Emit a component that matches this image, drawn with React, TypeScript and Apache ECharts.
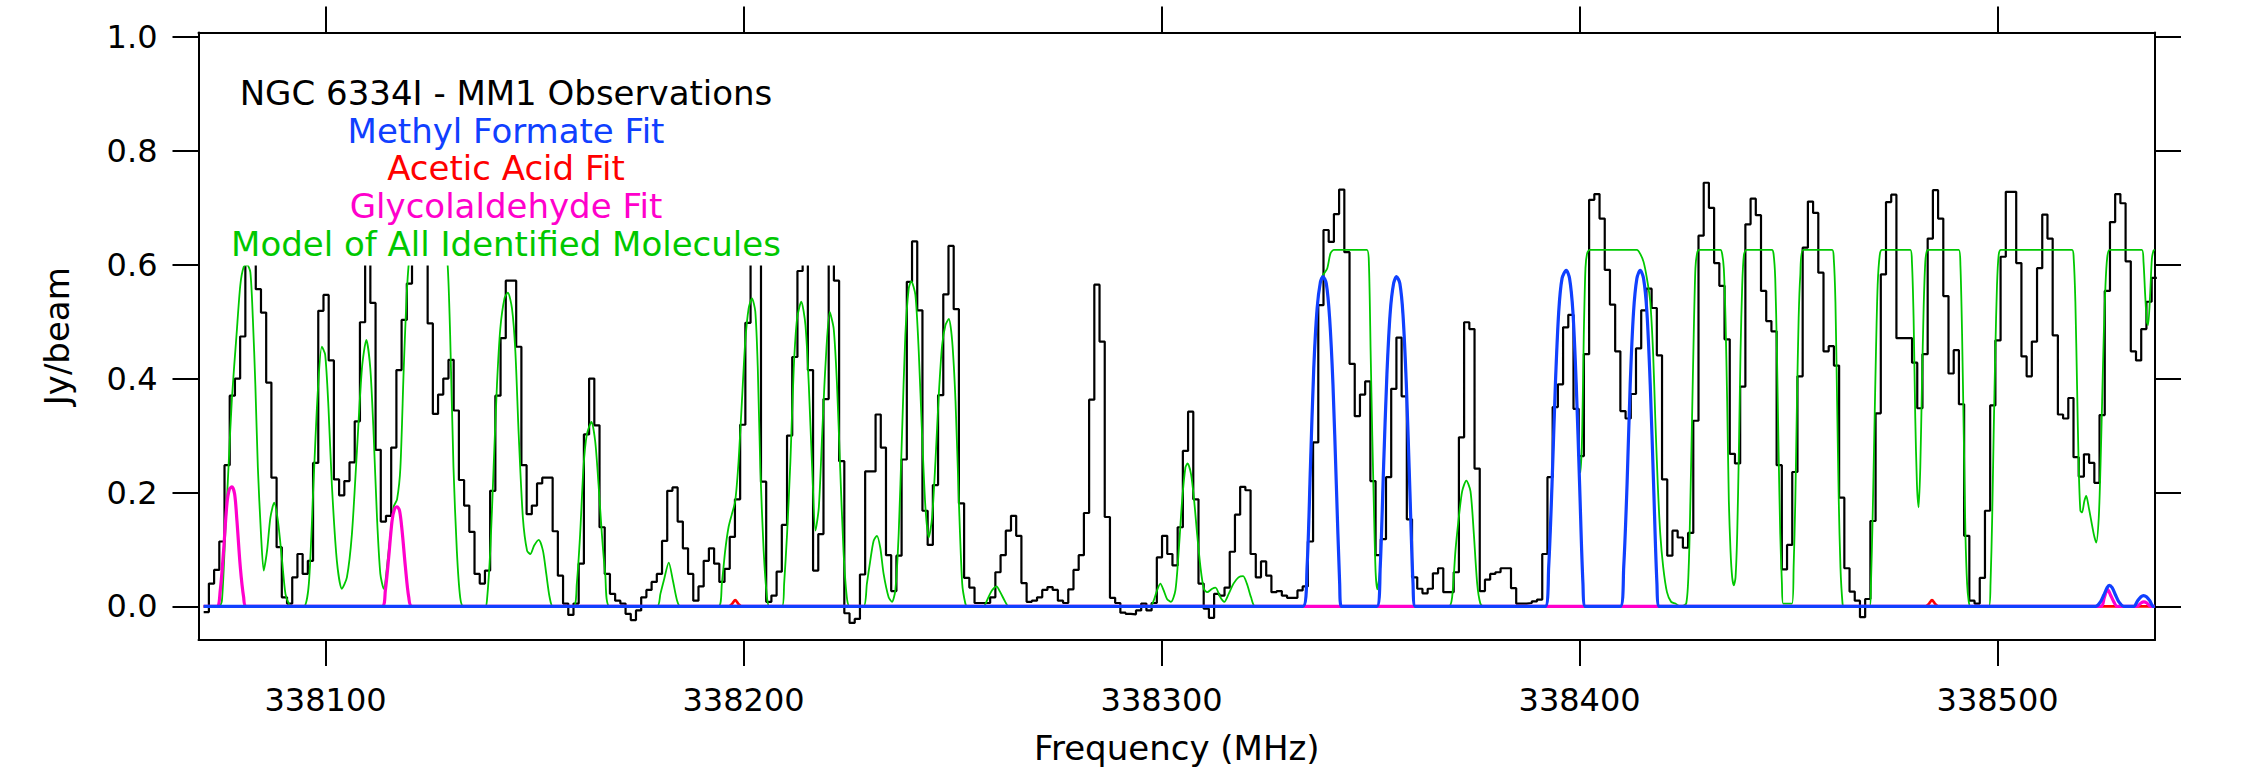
import React, { useEffect, useRef } from 'react';
import * as echarts from 'echarts';

const FONT = 'DejaVu Sans';

// Axis ticks
const X_TICKS = [338100, 338200, 338300, 338400, 338500];
const Y_TICKS = [0, 0.2, 0.4, 0.6, 0.8, 1.0];
const X_MIN = 338069.6;
const X_MAX = 338537.65;
const Y_MIN = -0.059;
const Y_MAX = 1.008;

// Observed spectrum: channel grid (left edge of first channel, channel width in MHz)
const SPEC_START = 338070.84;
const SPEC_CHANNEL = 1.246;
const SPEC_A = [-0.01, 0.04, 0.064, 0.114, 0.248, 0.37, 0.40, 0.474, 0.65, 0.68, 0.557, 0.516, 0.393, 0.226, 0.104, 0.016, 0.005, 0.051, 0.092, 0.057, 0.08, 0.252, 0.519, 0.547, 0.432, 0.223, 0.195, 0.22, 0.253, 0.325, 0.499, 0.63, 0.533, 0.275, 0.149, 0.159, 0.279, 0.415, 0.503, 0.567, 0.66, 0.70, 0.64, 0.497, 0.338, 0.372, 0.40];
const SPEC_B = [0.433, 0.344, 0.222, 0.177, 0.131, 0.057, 0.04, 0.063, 0.203, 0.37, 0.471, 0.572, 0.572, 0.456, 0.248, 0.162, 0.177, 0.216, 0.226, 0.226, 0.132, 0.054, 0.005, -0.015, 0.005, 0.075, 0.302, 0.40, 0.318, 0.139, 0.057, 0.022, 0.01, 0.005, -0.013, -0.024, -0.007, 0.016, 0.029, 0.043, 0.057, 0.115, 0.203, 0.209, 0.149, 0.102, 0.057, 0.01];
const SPEC_C = [0.035, 0.08, 0.102, 0.075, 0.043, 0.066, 0.122, 0.188, 0.319, 0.498, 0.66, 0.64, 0.219, 0.008, 0.019, 0.061, 0.143, 0.30, 0.438, 0.589, 0.61, 0.415, 0.063, 0.127, 0.364, 0.63, 0.572, 0.255, -0.012, -0.029, -0.022, 0.056, 0.237, 0.237, 0.337, 0.279, 0.09, 0.027, 0.089, 0.258, 0.57, 0.641, 0.52, 0.168, 0.108, 0.213, 0.371, 0.548];
const SPEC_D = [0.633, 0.522, 0.181, 0.05, 0.033, 0.006, 0.006, 0.006, 0.016, 0.06, 0.09, 0.133, 0.159, 0.124, 0.041, 0.008, 0.01, 0.016, 0.029, 0.034, 0.029, 0.01, 0.006, 0.03, 0.064, 0.09, 0.164, 0.363, 0.565, 0.465, 0.157, 0.015, 0.006, -0.011, -0.013, -0.014, -0.007, 0.005, -0.007, 0.006, 0.086, 0.124, 0.092, 0.072, 0.139, 0.273, 0.342, 0.188];
const SPEC_E = [0.04, -0.004, -0.02, 0.022, 0.019, 0.033, 0.096, 0.161, 0.21, 0.204, 0.092, 0.051, 0.079, 0.054, 0.025, 0.027, 0.019, 0.015, 0.015, 0.028, 0.035, 0.114, 0.288, 0.529, 0.661, 0.64, 0.689, 0.732, 0.622, 0.426, 0.334, 0.372, 0.395, 0.22, 0.09, 0.118, 0.227, 0.382, 0.472, 0.369, 0.153, 0.051, 0.031, 0.023, 0.031, 0.058, 0.067, 0.025];
const SPEC_F = [0.025, 0.06, 0.297, 0.499, 0.487, 0.242, 0.027, 0.047, 0.057, 0.06, 0.067, 0.067, 0.032, 0.005, 0.005, 0.006, 0.009, 0.012, 0.092, 0.227, 0.35, 0.39, 0.49, 0.512, 0.347, 0.264, 0.443, 0.714, 0.724, 0.681, 0.591, 0.53, 0.448, 0.343, 0.33, 0.373, 0.453, 0.52, 0.558, 0.524, 0.441, 0.223, 0.089, 0.133, 0.121, 0.103, 0.129, 0.326];
const SPEC_G = [0.651, 0.744, 0.7, 0.603, 0.563, 0.469, 0.268, 0.251, 0.386, 0.671, 0.716, 0.687, 0.554, 0.501, 0.483, 0.248, 0.065, 0.108, 0.236, 0.404, 0.63, 0.711, 0.691, 0.586, 0.448, 0.457, 0.423, 0.191, 0.067, 0.026, 0.01, -0.019, 0.013, 0.15, 0.339, 0.583, 0.71, 0.723, 0.471, 0.471, 0.471, 0.428, 0.348, 0.443, 0.646, 0.731, 0.681, 0.545];
const SPEC_H = [0.409, 0.45, 0.355, 0.124, 0.01, 0.005, 0.05, 0.168, 0.353, 0.467, 0.614, 0.728, 0.728, 0.603, 0.439, 0.404, 0.465, 0.594, 0.688, 0.646, 0.476, 0.337, 0.33, 0.366, 0.262, 0.228, 0.267, 0.252, 0.217, 0.336, 0.554, 0.675, 0.724, 0.708, 0.606, 0.448, 0.432, 0.487, 0.535, 0.577];

// Model of all identified molecules (green)
const GREEN_A = [[338070.84,0],[338074.5,0],[338075.2,0.01],[338076.0,0.127],[338076.8,0.248],[338077.6,0.366],[338078.7,0.477],[338079.6,0.564],[338080.4,0.596],[338081.2,0.6],[338082.0,0.587],[338082.6,0.506],[338083.2,0.389],[338083.8,0.244],[338084.55,0.127],[338085.2,0.063],[338086.0,0.098],[338086.8,0.156],[338087.7,0.182],[338088.6,0.15],[338089.6,0.08],[338090.4,0.022],[338091.2,0.005],[338092.0,0],[338094.8,0],[338096.0,0.04],[338097.1,0.214],[338098.1,0.372],[338099.1,0.456],[338099.9,0.442],[338100.7,0.348],[338101.5,0.214],[338102.7,0.08],[338103.9,0.031],[338105.1,0.051],[338106.3,0.127],[338107.5,0.273],[338108.7,0.418],[338109.75,0.468],[338110.7,0.418],[338111.5,0.302],[338112.3,0.156],[338113.1,0.057],[338113.9,0.031],[338115.1,0.098],[338116.3,0.175],[338117.1,0.188],[338117.9,0.244],[338118.7,0.418],[338119.5,0.56],[338120.2,0.62],[338121.0,0.626],[338128.5,0.626],[338129.2,0.6],[338129.8,0.477],[338130.6,0.244],[338131.4,0.098],[338132.2,0.016],[338133.0,0]];
const GREEN_B = [[338138.2,0],[338138.6,0.01],[338139.4,0.098],[338140.2,0.244],[338141.0,0.389],[338141.8,0.488],[338142.8,0.541],[338143.6,0.551],[338144.6,0.523],[338145.4,0.448],[338146.2,0.302],[338147.2,0.156],[338148.2,0.098],[338149.0,0.092],[338149.9,0.107],[338151.0,0.117],[338152.0,0.098],[338152.8,0.057],[338153.6,0.016],[338154.4,0],[338159.3,0],[338160.1,0.04],[338160.9,0.127],[338161.7,0.244],[338162.5,0.302],[338163.6,0.324],[338164.5,0.29],[338165.3,0.214],[338166.1,0.127],[338166.9,0.057],[338167.95,0],[338179.3,0],[338180.1,0.022],[338180.9,0.045],[338182.1,0.077],[338183.1,0.045],[338184.1,0.01],[338184.9,0]];
const GREEN_C = [[338194.0,0],[338194.8,0.04],[338195.6,0.098],[338196.4,0.139],[338197.2,0.162],[338198.0,0.185],[338198.8,0.255],[338199.6,0.36],[338200.4,0.465],[338201.2,0.523],[338202.0,0.541],[338202.8,0.518],[338203.4,0.418],[338204.0,0.244],[338204.8,0.098],[338205.6,0.016],[338206.2,0],[338209.2,0],[338209.7,0.04],[338210.4,0.127],[338211.2,0.255],[338212.0,0.418],[338212.8,0.506],[338213.8,0.535],[338214.8,0.494],[338215.6,0.389],[338216.4,0.244],[338217.2,0.133],[338218.0,0.174],[338218.8,0.302],[338219.55,0.418],[338220.6,0.517],[338221.55,0.488],[338222.35,0.389],[338223.1,0.244],[338223.9,0.098],[338224.7,0.016],[338225.4,0],[338228.7,0],[338229.5,0.04],[338230.3,0.08],[338231.1,0.115],[338231.9,0.124],[338232.7,0.103],[338233.5,0.057],[338234.7,0.016],[338235.5,0.008],[338236.3,0.028],[338237.1,0.127],[338237.9,0.302],[338238.7,0.477],[338239.5,0.558],[338240.1,0.571],[338241.1,0.547],[338241.9,0.448],[338242.7,0.302],[338243.5,0.174],[338244.3,0.121],[338245.1,0.156],[338245.9,0.255],[338246.7,0.372],[338247.5,0.459],[338248.3,0.494],[338249.1,0.505],[338249.9,0.466],[338250.7,0.36],[338251.5,0.185],[338252.3,0.04],[338253.05,0.005],[338253.5,0]];
const GREEN_D = [[338257.4,0],[338258.2,0.01],[338259.4,0.028],[338260.5,0.035],[338261.4,0.025],[338262.6,0.008],[338263.4,0],[338297.3,0],[338298.1,0.01],[338298.9,0.028],[338299.7,0.04],[338300.5,0.028],[338301.3,0.013],[338302.25,0.008],[338303.3,0.028],[338304.1,0.098],[338304.9,0.185],[338305.7,0.244],[338306.2,0.251],[338307.05,0.232],[338307.8,0.185],[338308.5,0.127],[338309.3,0.069],[338310.1,0.031],[338310.9,0.025],[338312.1,0.031],[338312.9,0.033],[338314.05,0.016],[338315.0,0.008],[338316.05,0.022],[338317.2,0.04],[338318.4,0.051],[338319.5,0.053],[338320.4,0.04],[338321.4,0.016],[338322.4,0]];
const GREEN_E = [[338333.8,0],[338334.8,0.069],[338335.6,0.244],[338336.4,0.418],[338337.2,0.523],[338338.0,0.57],[338338.6,0.582],[338339.6,0.593],[338340.4,0.62],[338341.2,0.626],[338349.1,0.626],[338349.6,0.6],[338350.0,0.45],[338350.4,0.3],[338350.8,0.17],[338351.2,0.06],[338351.6,0.03],[338352.3,0.069],[338353.1,0.244],[338353.9,0.407],[338354.7,0.517],[338355.5,0.567],[338356.2,0.579],[338357.0,0.567],[338357.75,0.512],[338358.55,0.389],[338359.35,0.214],[338360.15,0.04],[338360.7,0],[338368.7,0],[338369.5,0.016],[338370.3,0.098],[338371.1,0.156],[338371.9,0.202],[338372.9,0.221],[338373.9,0.202],[338374.7,0.127],[338375.5,0.04],[338376.25,0.005],[338377.0,0]];
const GREEN_F = [[338391.8,0],[338392.6,0.069],[338393.4,0.214],[338394.2,0.389],[338395.0,0.517],[338395.8,0.576],[338396.8,0.59],[338397.6,0.576],[338398.4,0.517],[338399.2,0.389],[338399.8,0.28],[338400.2,0.235],[338400.6,0.30],[338401.0,0.477],[338401.4,0.594],[338401.8,0.62],[338402.4,0.626],[338413.7,0.626],[338414.5,0.619],[338415.3,0.605],[338416.1,0.576],[338416.9,0.535],[338417.6,0.442],[338418.1,0.331],[338418.7,0.214],[338419.3,0.127],[338420.0,0.069],[338420.9,0.025],[338421.9,0.008],[338422.9,0.005],[338424.1,0],[338425.5,0.005],[338426.1,0.069],[338426.5,0.185],[338426.9,0.331],[338427.3,0.477],[338427.7,0.593],[338428.1,0.62],[338428.6,0.626]];
const GREEN_G = [[338433.7,0.626],[338434.1,0.619],[338434.5,0.593],[338434.9,0.506],[338435.3,0.36],[338435.7,0.185],[338436.1,0.098],[338436.5,0.051],[338436.9,0.037],[338437.3,0.051],[338437.7,0.127],[338438.1,0.273],[338438.5,0.448],[338438.9,0.564],[338439.3,0.617],[338439.9,0.626],[338446.0,0.626],[338446.4,0.619],[338446.8,0.576],[338447.2,0.448],[338447.6,0.273],[338448.0,0.127],[338448.4,0.04],[338448.7,0.005],[338450.8,0.005],[338451.2,0.069],[338451.6,0.185],[338452.0,0.36],[338452.4,0.506],[338452.8,0.582],[338453.45,0.626],[338460.4,0.626],[338460.8,0.611],[338461.2,0.535],[338461.6,0.36],[338462.0,0.185],[338462.4,0.069],[338462.9,0.005],[338463.2,0],[338469.4,0],[338469.7,0.04],[338470.1,0.156],[338470.5,0.302],[338470.9,0.448],[338471.3,0.564],[338471.8,0.617],[338472.35,0.626],[338479.1,0.626],[338479.5,0.605],[338479.9,0.506],[338480.3,0.331],[338480.7,0.214],[338481.1,0.174],[338481.5,0.244],[338481.9,0.389],[338482.3,0.523],[338482.7,0.605],[338483.1,0.625],[338483.5,0.626]];
const GREEN_H = [[338490.7,0.626],[338491.1,0.599],[338491.5,0.477],[338491.9,0.302],[338492.3,0.127],[338492.7,0.04],[338493.1,0.008],[338493.5,0],[338497.9,0],[338498.3,0.04],[338498.7,0.156],[338499.05,0.302],[338499.45,0.448],[338499.85,0.564],[338500.25,0.617],[338500.8,0.626],[338517.8,0.626],[338518.2,0.611],[338518.6,0.535],[338519.0,0.389],[338519.4,0.244],[338519.8,0.168],[338520.2,0.165],[338520.75,0.185],[338521.2,0.194],[338521.8,0.174],[338523.0,0.127],[338523.6,0.112],[338524.2,0.156],[338524.6,0.244],[338525.0,0.36],[338525.4,0.477],[338525.8,0.564],[338526.2,0.611],[338526.8,0.626],[338534.5,0.626],[338534.9,0.605],[338535.3,0.547],[338535.7,0.5],[338536.0,0.494],[338536.5,0.55],[338536.9,0.61],[338537.3,0.625],[338537.6,0.626]];

// Methyl formate fit (blue)
const BLUE = [[338070.84,0],[338333.8,0],[338334.8,0.069],[338335.6,0.244],[338336.4,0.418],[338337.2,0.523],[338338.0,0.57],[338338.6,0.579],[338339.4,0.567],[338340.2,0.506],[338341.0,0.389],[338341.8,0.214],[338342.6,0.04],[338343.0,0],[338351.5,0],[338352.3,0.069],[338353.1,0.244],[338353.9,0.407],[338354.7,0.517],[338355.5,0.567],[338356.2,0.579],[338357.0,0.567],[338357.75,0.512],[338358.55,0.389],[338359.35,0.214],[338360.15,0.04],[338360.7,0],[338391.8,0],[338392.6,0.069],[338393.4,0.214],[338394.2,0.389],[338395.0,0.517],[338395.8,0.576],[338396.8,0.59],[338397.6,0.576],[338398.4,0.517],[338399.2,0.389],[338400.0,0.214],[338400.8,0.04],[338401.4,0],[338409.75,0],[338410.55,0.069],[338411.35,0.214],[338412.1,0.389],[338412.9,0.517],[338413.7,0.576],[338414.5,0.59],[338415.3,0.576],[338416.1,0.517],[338416.9,0.389],[338417.7,0.214],[338418.5,0.04],[338419.1,0],[338523.4,0],[338524.6,0.008],[338525.4,0.02],[338526.2,0.033],[338526.7,0.037],[338527.4,0.033],[338528.2,0.02],[338529.0,0.008],[338530.2,0],[338532.55,0],[338533.5,0.01],[338534.3,0.017],[338534.9,0.019],[338535.6,0.017],[338536.4,0.01],[338537.2,0],[338537.6,0]];

// Glycolaldehyde fit (magenta)
const MAGENTA = [[338070.84,0],[338074.0,0],[338074.8,0.028],[338075.6,0.098],[338076.4,0.18],[338077.0,0.206],[338077.6,0.21],[338078.25,0.197],[338078.8,0.15],[338079.6,0.069],[338080.4,0.016],[338081.05,0],[338113.5,0],[338114.3,0.028],[338115.1,0.086],[338115.9,0.15],[338116.5,0.171],[338117.1,0.175],[338117.7,0.168],[338118.3,0.133],[338119.1,0.069],[338119.9,0.016],[338120.7,0],[338524.7,0],[338525.5,0.015],[338526.3,0.03],[338527.0,0.02],[338527.8,0.008],[338528.6,0],[338533.3,0],[338534.3,0.006],[338535.0,0.008],[338535.7,0.006],[338536.6,0],[338537.6,0]];

// Acetic acid fit (red)
const RED = [[338070.84,0],[338196.5,0],[338197.3,0.005],[338198.0,0.011],[338198.7,0.005],[338199.5,0],[338482.8,0],[338483.6,0.005],[338484.3,0.011],[338485.0,0.005],[338485.8,0],[338537.6,0]];

const LEGEND_LINES = ['NGC 6334I - MM1 Observations', 'Methyl Formate Fit', 'Acetic Acid Fit', 'Glycolaldehyde Fit', 'Model of All Identified Molecules'];
const LEGEND_COLORS = ['#000000', '#1040ff', '#ff0000', '#ff00cc', '#00c800'];

export default function App() {
  const ref = useRef<HTMLDivElement>(null);
  useEffect(() => {
    if (!ref.current) return;
    const chart = echarts.init(ref.current, null, { renderer: 'svg' });
    const spectrum = [...SPEC_A, ...SPEC_B, ...SPEC_C, ...SPEC_D, ...SPEC_E, ...SPEC_F, ...SPEC_G, ...SPEC_H];
    const specData = spectrum.map((v, i) => [SPEC_START + i * SPEC_CHANNEL, v]);
    specData.push([SPEC_START + spectrum.length * SPEC_CHANNEL, spectrum[spectrum.length - 1]]);
    const green = [...GREEN_A, ...GREEN_B, ...GREEN_C, ...GREEN_D, ...GREEN_E, ...GREEN_F, ...GREEN_G, ...GREEN_H];

    const axisLine = { show: true, onZero: false, lineStyle: { color: '#000', width: 2 } };
    const tickStyle = { color: '#000', width: 2 };
    const labelStyle = { color: '#000', fontFamily: FONT, fontSize: 32 };

    const legendGraphics: any[] = [
      { type: 'rect', z: 50, shape: { x: 201, y: 36, width: 669, height: 229.5 }, style: { fill: '#ffffff' } },
    ];
    LEGEND_LINES.forEach((t, i) => {
      legendGraphics.push({
        type: 'text', z: 60, x: 506, y: 93 + i * 37.7,
        style: { text: t, fill: LEGEND_COLORS[i], fontFamily: FONT, fontSize: 34, align: 'center', verticalAlign: 'middle' },
      });
    });

    chart.setOption({
      animation: false,
      backgroundColor: '#ffffff',
      grid: { left: 198.5, right: 86, top: 32.4, bottom: 127.3, containLabel: false },
      xAxis: [
        {
          type: 'value', position: 'bottom', min: X_MIN, max: X_MAX,
          axisLine, splitLine: { show: false },
          axisTick: { show: true, inside: false, length: 26, lineStyle: tickStyle, customValues: X_TICKS },
          axisLabel: { ...labelStyle, margin: 44, customValues: X_TICKS, formatter: (v: number) => String(Math.round(v)) },
          name: 'Frequency (MHz)', nameLocation: 'middle', nameGap: 91,
          nameTextStyle: { color: '#000', fontFamily: FONT, fontSize: 34 },
        },
        {
          type: 'value', position: 'top', min: X_MIN, max: X_MAX,
          axisLine, splitLine: { show: false },
          axisTick: { show: true, inside: false, length: 26, lineStyle: tickStyle, customValues: X_TICKS },
          axisLabel: { show: false, customValues: X_TICKS },
        },
      ],
      yAxis: [
        {
          type: 'value', position: 'left', min: Y_MIN, max: Y_MAX,
          axisLine, splitLine: { show: false },
          axisTick: { show: true, inside: false, length: 26, lineStyle: tickStyle, customValues: Y_TICKS },
          axisLabel: { ...labelStyle, margin: 41, customValues: Y_TICKS, formatter: (v: number) => v.toFixed(1) },
          name: 'Jy/beam', nameLocation: 'middle', nameGap: 125, nameRotate: 90,
          nameTextStyle: { color: '#000', fontFamily: FONT, fontSize: 34 },
        },
        {
          type: 'value', position: 'right', min: Y_MIN, max: Y_MAX,
          axisLine, splitLine: { show: false },
          axisTick: { show: true, inside: false, length: 26, lineStyle: tickStyle, customValues: Y_TICKS },
          axisLabel: { show: false, customValues: Y_TICKS },
        },
      ],
      series: [
        { name: 'Observed', type: 'line', step: 'end', data: specData, symbol: 'none', z: 2,
          lineStyle: { color: '#000000', width: 2.2 }, itemStyle: { color: '#000' } },
        { name: 'Model', type: 'line', data: green, symbol: 'none', z: 3, smooth: 0.25,
          lineStyle: { color: '#00c800', width: 1.8 }, itemStyle: { color: '#00c800' } },
        { name: 'Acetic Acid', type: 'line', data: RED, symbol: 'none', z: 4, smooth: 0.3,
          lineStyle: { color: '#ff0000', width: 2.6 }, itemStyle: { color: '#ff0000' } },
        { name: 'Glycolaldehyde', type: 'line', data: MAGENTA, symbol: 'none', z: 5, smooth: 0.3,
          lineStyle: { color: '#ff00cc', width: 3.2 }, itemStyle: { color: '#ff00cc' } },
        { name: 'Methyl Formate', type: 'line', data: BLUE, symbol: 'none', z: 6, smooth: 0.3,
          lineStyle: { color: '#1040ff', width: 3.2 }, itemStyle: { color: '#1040ff' } },
      ],
      graphic: legendGraphics,
    });
    return () => chart.dispose();
  }, []);
  return <div ref={ref} style={{ position: 'fixed', left: 0, top: 0, width: 2241, height: 770, background: '#fff' }} />;
}
